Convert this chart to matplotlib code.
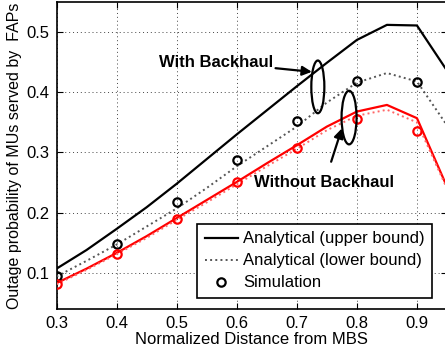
import matplotlib
matplotlib.use("Agg")
import matplotlib.pyplot as plt
from matplotlib.patches import Ellipse

plt.rcParams['font.family'] = ['Liberation Sans', 'DejaVu Sans']

# Data
x_line = [0.3, 0.35, 0.4, 0.45, 0.5, 0.55, 0.6, 0.65, 0.7, 0.75, 0.8, 0.85, 0.9, 0.95]
bh_upper = [0.107, 0.138, 0.173, 0.209, 0.248, 0.289, 0.330, 0.370, 0.410, 0.449, 0.487, 0.512, 0.511, 0.436]
bh_lower = [0.094, 0.120, 0.147, 0.177, 0.207, 0.241, 0.277, 0.310, 0.343, 0.383, 0.416, 0.432, 0.418, 0.345]
nobh_upper = [0.083, 0.107, 0.133, 0.161, 0.191, 0.221, 0.251, 0.282, 0.312, 0.343, 0.368, 0.379, 0.357, 0.243]
nobh_lower = [0.081, 0.105, 0.131, 0.158, 0.188, 0.217, 0.247, 0.277, 0.306, 0.337, 0.361, 0.371, 0.350, 0.240]

x_sim = [0.3, 0.4, 0.5, 0.6, 0.7, 0.8, 0.9]
bh_sim = [0.094, 0.148, 0.217, 0.288, 0.353, 0.418, 0.417]
nobh_sim = [0.082, 0.132, 0.190, 0.251, 0.307, 0.356, 0.335]

xticks = [0.3, 0.4, 0.5, 0.6, 0.7, 0.8, 0.9]
yticks = [0.1, 0.2, 0.3, 0.4, 0.5]

W, H = 445, 355
fig = plt.figure(figsize=(W / 100, H / 100), dpi=100)
ax_l, ax_r, ax_t, ax_b = 56.5, 447, 2, 309
ax = fig.add_axes([ax_l / W, (H - ax_b) / H, (ax_r - ax_l) / W, (ax_b - ax_t) / H])

lw = 1.6
ax.plot(x_line, bh_upper, '-', color='black', lw=lw, label='Analytical (upper bound)', zorder=3)
ax.plot(x_line, bh_lower, ':', color='#555555', lw=1.4, label='Analytical (lower bound)', zorder=3)
ax.plot(x_sim, bh_sim, 'o', mfc='none', mec='black', mew=1.6, ms=6, label='Simulation', zorder=4)
ax.plot(x_line, nobh_upper, '-', color='red', lw=lw, zorder=3)
ax.plot(x_line, nobh_lower, ':', color='#ff6666', lw=1.4, zorder=3)
ax.plot(x_sim, nobh_sim, 'o', mfc='none', mec='red', mew=1.6, ms=6, zorder=4)

ax.set_xlim(0.3, 0.95)
ax.set_ylim(0.04, 0.55)
ax.set_xticks(xticks)
ax.set_xticklabels(['%.1f' % v for v in xticks])
ax.set_yticks(yticks)
ax.set_yticklabels(['%.1f' % v for v in yticks])
ax.tick_params(direction='in', top=True, right=True, labelsize=12, length=4, width=0.8, pad=5)
ax.grid(True, linestyle=(0, (1, 3)), color='#444444', lw=0.7)
for s in ax.spines.values():
    s.set_linewidth(1.2)

ax.set_xlabel('Normalized Distance from MBS', fontsize=12, labelpad=1)
ax.set_ylabel('Outage probability of MUs served by  FAPs', fontsize=11.5, labelpad=3)

# Annotations
ax.annotate('With Backhaul', xy=(0.725, 0.434), xytext=(0.565, 0.450),
            fontsize=12, fontweight='bold', ha='center', va='center',
            arrowprops=dict(arrowstyle='-|>', color='black', lw=1.6, mutation_scale=14,
                            shrinkA=0, shrinkB=0))
ax.annotate('Without Backhaul', xy=(0.775, 0.340), xytext=(0.746, 0.250),
            fontsize=12, fontweight='bold', ha='center', va='center',
            arrowprops=dict(arrowstyle='-|>', color='black', lw=1.6, mutation_scale=14,
                            shrinkA=8, shrinkB=0))
ax.add_patch(Ellipse((0.735, 0.409), 0.0217, 0.0876, fill=False, ec='black', lw=1.6, zorder=5))
ax.add_patch(Ellipse((0.787, 0.358), 0.025, 0.089, fill=False, ec='black', lw=1.6, zorder=5))

leg = ax.legend(loc='lower right', bbox_to_anchor=(0.962, 0.036), borderaxespad=0,
                fontsize=12, frameon=True, fancybox=False, edgecolor='black', framealpha=1,
                handlelength=2.0, borderpad=0.45, labelspacing=0.42, handletextpad=0.3)
leg.get_frame().set_linewidth(1.2)

fig.savefig('out.png', dpi=100)
